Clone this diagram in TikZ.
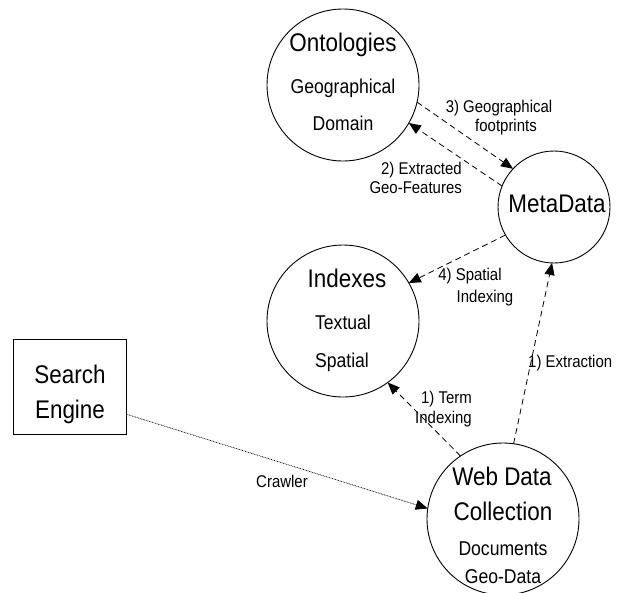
\documentclass[tikz,border=0pt]{standalone}
\usepackage{fontspec}
\setmainfont[FakeStretch=0.88]{Liberation Sans}
\usetikzlibrary{arrows.meta}
\tikzset{
  bigcirc/.style={circle, draw, line width=0.9pt, inner sep=0pt, outer sep=0pt, minimum size=152pt},
  smallcirc/.style={circle, draw, line width=0.9pt, inner sep=0pt, outer sep=0pt, minimum size=112pt},
  boxnode/.style={rectangle, draw, line width=0.9pt, inner sep=0pt, outer sep=0pt, minimum width=113pt, minimum height=95pt},
  title/.style={anchor=base, inner sep=0pt, font=\fontsize{25.5}{30}\selectfont},
  sub/.style={anchor=base, inner sep=0pt, font=\fontsize{20}{24}\selectfont},
  lbl/.style={anchor=base, inner sep=0pt, font=\fontsize{17}{20}\selectfont},
  tip/.style={-{Triangle[length=12pt,width=10pt]}},
  flow/.style={tip, line width=0.8pt, dash pattern=on 6pt off 4pt},
  crawl/.style={tip, line width=0.7pt, dash pattern=on 0.8pt off 0.8pt}
}
\begin{document}
\begin{tikzpicture}[x=1pt,y=-1pt]
\useasboundingbox (0,0) rectangle (617,592);

% main components
\node[bigcirc]   (ont)  at (343,85)    {};
\node[bigcirc]   (idx)  at (343,321)   {};
\node[smallcirc] (meta) at (554,207)   {};
\node[bigcirc]   (wdc)  at (503,519)   {};
\node[boxnode]   (se)   at (69.5,386.5) {};

% texts inside the components
\node[title] (tont)  at (343,51.5) {Ontologies};
\node[sub]   (tgeo)  at (343,93)   {Geographical};
\node[sub]   (tdom)  at (343,130)  {Domain};
\node[title] (tmeta) at (557,212)  {MetaData};
\node[title] (tidx)  at (347,287)  {Indexes};
\node[sub]   (ttex)  at (343,329)  {Textual};
\node[sub]   (tspa)  at (342,367)  {Spatial};
\node[title] (tweb)  at (502,485)  {Web Data};
\node[title] (tcol)  at (503,520)  {Collection};
\node[sub]   (tdoc)  at (503,555)  {Documents};
\node[sub]   (tgd)   at (503,583)  {Geo-Data};
\node[title] (tsea)  at (70,383)   {Search};
\node[title] (teng)  at (70,418)   {Engine};

% flows
\draw[flow]  (ont.-13.5) -- (meta.137);
\draw[flow]  (meta.158)  -- (ont.-30);
\draw[flow]  (meta.210)  -- (idx.30);
\draw[flow]  (wdc.82.5)  -- (meta.268);
\draw[flow]  (wdc.124)   -- (idx.-54);
\draw[crawl] (se.-26.8)  -- (wdc.172);

% flow labels
\node[lbl] (l3a) at (499,112) {3) Geographical};
\node[lbl] (l3b) at (506,131) {footprints};
\node[lbl, anchor=base east] (l2a) at (462,174) {2) Extracted};
\node[lbl, anchor=base east] (l2b) at (462,193) {Geo-Features};
\node[lbl] (l4a) at (470,280) {4) Spatial};
\node[lbl] (l4b) at (485,302) {Indexing};
\node[lbl, anchor=base west] (l1e) at (528,367) {1) Extraction};
\node[lbl, anchor=base east] (l1a) at (472,403) {1) Term};
\node[lbl, anchor=base east] (l1b) at (472,423) {Indexing};
\node[lbl] (lcr) at (282,487) {Crawler};
\end{tikzpicture}
\end{document}
